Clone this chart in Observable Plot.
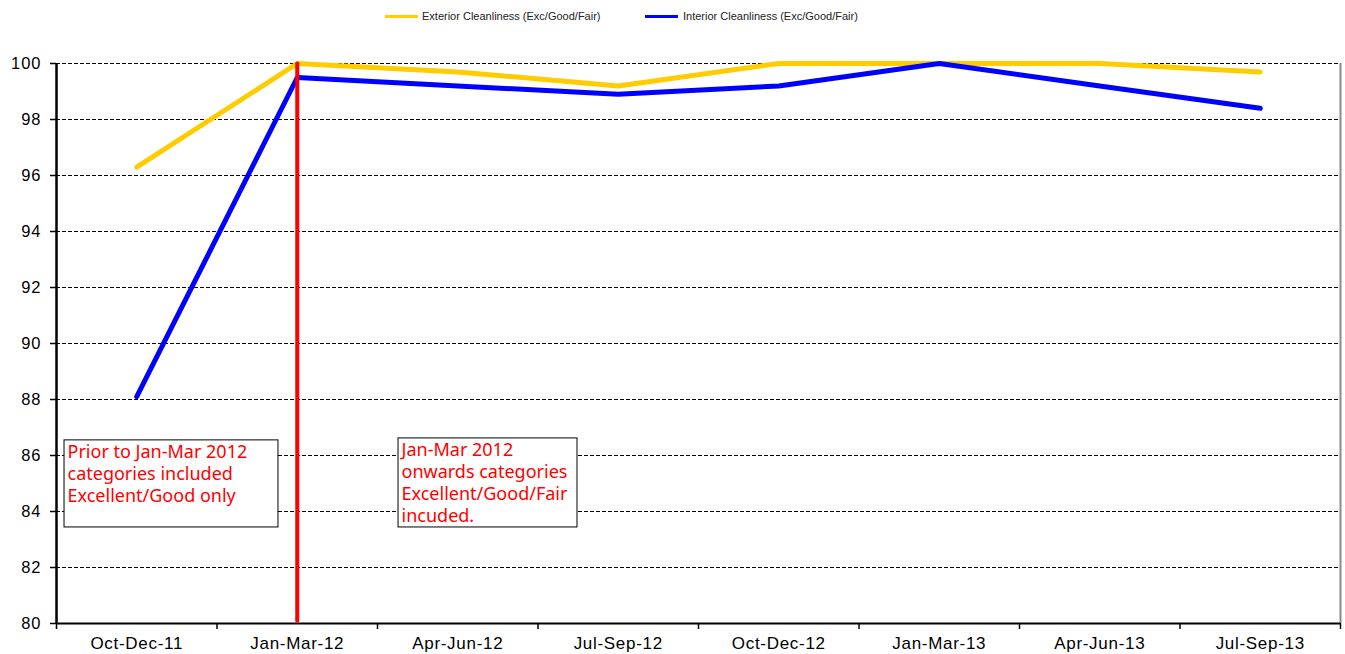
<!DOCTYPE html>
<html>
<head>
<meta charset="utf-8">
<script src="https://cdn.jsdelivr.net/npm/d3@7"></script>
<script src="https://cdn.jsdelivr.net/npm/@observablehq/plot@0.6"></script>
<style>
  html, body { margin: 0; padding: 0; background: #fff; }
  #legend { position: relative; width: 1345px; height: 33px; font-family: "Liberation Sans", Arial, sans-serif; font-size: 11px; color: #222; }
  #legend .sw { position: absolute; top: 15px; width: 33px; height: 3px; }
  #legend .lb { position: absolute; top: 10px; white-space: nowrap; }
  #chart g[aria-label="x-axis tick label"] text { letter-spacing: 0.7px; }
  #chart g[aria-label="y-axis tick label"] text { letter-spacing: 1px; }
</style>
</head>
<body>
<div id="legend"></div>
<div id="chart"></div>
<script>
const categories = ["Oct-Dec-11", "Jan-Mar-12", "Apr-Jun-12", "Jul-Sep-12", "Oct-Dec-12", "Jan-Mar-13", "Apr-Jun-13", "Jul-Sep-13"];
const exterior = [96.3, 100, 99.7, 99.2, 100, 100, 100, 99.7];
const interior = [88.1, 99.5, 99.2, 98.9, 99.2, 100, 99.2, 98.4];
const seriesNames = ["Exterior Cleanliness (Exc/Good/Fair)", "Interior Cleanliness (Exc/Good/Fair)"];
const seriesColors = ["#FFCC00", "#0000FF"];
const yTicks = [80, 82, 84, 86, 88, 90, 92, 94, 96, 98, 100];
// divider at Jan-Mar-12 (category index 1)
const dividerCategory = 1;
const dividerRange = [80.1, 100];
// annotation boxes in data units (x = category index units, y = percent)
const annotations = [
  {x1: 0.05, x2: 1.383, y1: 83.43, y2: 86.54, text: "Prior to Jan-Mar 2012\ncategories included\nExcellent/Good only"},
  {x1: 2.131, x2: 3.246, y1: 83.43, y2: 86.61, text: "Jan-Mar 2012\nonwards categories\nExcellent/Good/Fair\nincuded."}
];

// legend
const legend = document.getElementById("legend");
const legendPos = [[385, 422], [645, 683]];
seriesNames.forEach((n, k) => {
  const sw = document.createElement("div");
  sw.className = "sw"; sw.style.left = legendPos[k][0] + "px"; sw.style.background = seriesColors[k];
  const lb = document.createElement("div");
  lb.className = "lb"; lb.style.left = legendPos[k][1] + "px"; lb.textContent = n;
  legend.appendChild(sw); legend.appendChild(lb);
});

const extData = exterior.map((v, i) => ({i: i + 0.5, v}));
const intData = interior.map((v, i) => ({i: i + 0.5, v}));
const divider = dividerRange.map(v => ({i: dividerCategory + 0.5, v}));

const chart = Plot.plot({
  width: 1345,
  height: 621,
  marginTop: 30,
  marginBottom: 31,
  marginLeft: 56,
  marginRight: 5,
  x: {domain: [0, categories.length]},
  y: {domain: [80, 100]},
  style: {fontFamily: "'Liberation Sans', Arial, sans-serif", fontSize: "16px", color: "#000", background: "#fff"},
  marks: [
    Plot.gridY(yTicks.filter(d => d > 80), {stroke: "#000", strokeOpacity: 1, strokeWidth: 1, strokeDasharray: "4,2"}),
    Plot.ruleX([categories.length], {stroke: "#8a8a8a", strokeWidth: 2}),
    Plot.rect(annotations, {x1: "x1", x2: "x2", y1: "y1", y2: "y2", fill: "#fff", stroke: "#000", strokeWidth: 1}),
    Plot.text(annotations, {x: "x1", y: "y2", text: "text", dx: 3, dy: 2, textAnchor: "start", lineAnchor: "top", lineHeight: 1.22,
      fill: "#FF0000", fontSize: 18, fontFamily: "'Noto Sans', 'Open Sans', sans-serif"}),
    Plot.axisY({ticks: yTicks, tickSize: 6, tickPadding: 9, label: null, fontSize: 16.5, strokeWidth: 1.5}),
    Plot.axisX({ticks: d3.range(0, categories.length + 1), tickSize: 6, tickFormat: () => "", label: null, strokeWidth: 1.5}),
    Plot.axisX({ticks: categories.map((c, i) => i + 0.5), tickSize: 0, tickPadding: 13, tickFormat: d => categories[Math.floor(d)], label: null, fontSize: 17}),
    Plot.ruleY([80], {stroke: "#000", strokeWidth: 2}),
    Plot.ruleX([0], {stroke: "#000", strokeWidth: 2.5}),
    Plot.line(extData, {x: "i", y: "v", stroke: seriesColors[0], strokeWidth: 5, strokeLinecap: "round", strokeLinejoin: "round"}),
    Plot.line(intData, {x: "i", y: "v", stroke: seriesColors[1], strokeWidth: 5, strokeLinecap: "round", strokeLinejoin: "round"}),
    Plot.line(divider, {x: "i", y: "v", stroke: "#FF0000", strokeWidth: 4})
  ]
});
document.getElementById("chart").appendChild(chart);
</script>
</body>
</html>
